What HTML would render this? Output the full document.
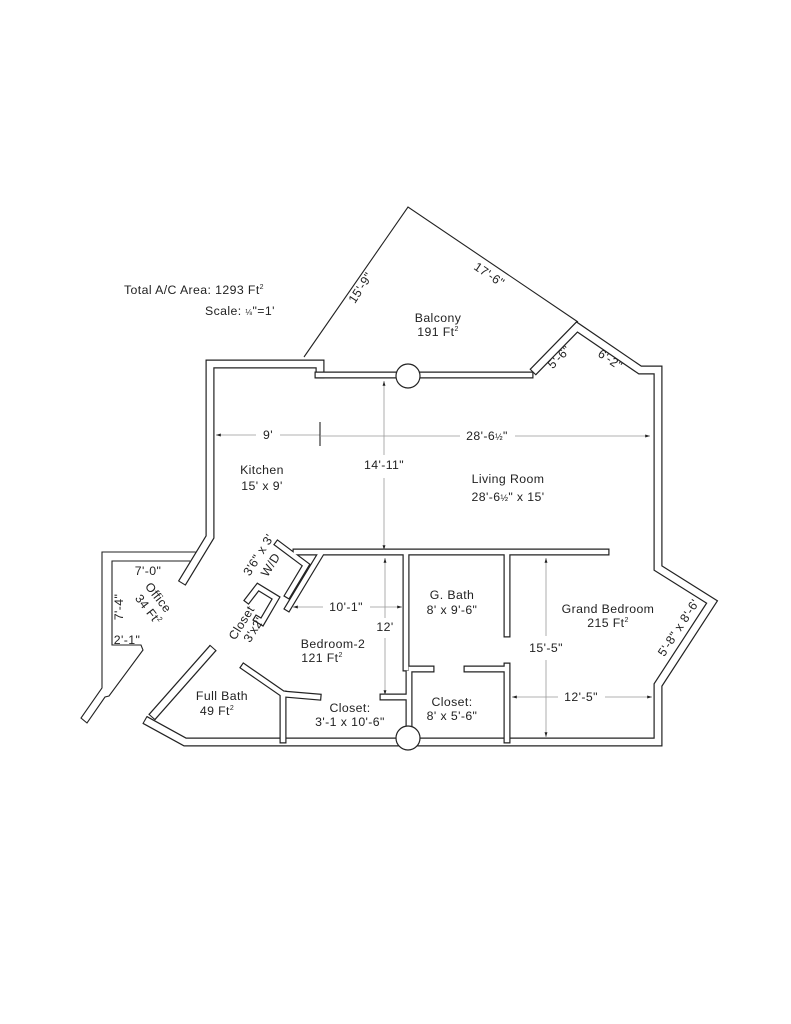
<!DOCTYPE html>
<html><head><meta charset="utf-8"><style>
html,body{margin:0;padding:0;background:#fff}
svg{display:block}
text{font-family:"Liberation Sans",sans-serif;fill:#222;font-size:12.3px;letter-spacing:0.4px}
.w{fill:none;stroke:#222;stroke-width:9;stroke-linejoin:miter;stroke-linecap:butt}
.wi{fill:none;stroke:#fff;stroke-width:6.6;stroke-linejoin:miter;stroke-linecap:butt}
.t{fill:none;stroke:#222;stroke-width:7;stroke-linecap:square;stroke-linejoin:miter}
.ti{fill:none;stroke:#fff;stroke-width:4.6;stroke-linecap:square;stroke-linejoin:miter}
.d{stroke:#999;stroke-width:0.8;fill:none}
.b{stroke:#222;stroke-width:1.1;fill:none}
</style></head><body>
<svg width="791" height="1024" viewBox="0 0 791 1024" xmlns="http://www.w3.org/2000/svg">
<defs>
<marker id="a" viewBox="0 0 10 10" refX="10" refY="5" markerWidth="6" markerHeight="6" orient="auto-start-reverse"><path d="M0,2 L10,5 L0,8z" fill="#222"/></marker>
</defs>
<polyline class="b" points="304,357 408,207 578,322"/>
<g>
<polyline class="w" points="320,378 320,364 210,364 210,537 182,583"/>
<polyline class="w" points="145,720 185,742 658,742 658,685 712,602 658,568 658,370 640,370 577,327 533,372"/>
<polyline class="w" points="213,648 152,717"/>
</g>
<g>
<polyline class="wi" points="320,378 320,364 210,364 210,537 182,583"/>
<polyline class="wi" points="145,720 185,742 658,742 658,685 712,602 658,568 658,370 640,370 577,327 533,372"/>
<polyline class="wi" points="213,648 152,717"/>
</g>
<g stroke="#222" stroke-width="1.1">
<line x1="178.2" y1="580.7" x2="185.8" y2="585.3"/>
<line x1="142.8" y1="723.9" x2="147.2" y2="716.1"/>
<line x1="209.6" y1="645" x2="216.4" y2="651"/>
<line x1="148.6" y1="714" x2="155.4" y2="720"/>
<line x1="529.8" y1="368.9" x2="536.2" y2="375.1"/>
<line x1="315.5" y1="378" x2="324.5" y2="378"/>
</g>
<path class="b" d="M195.7,552 H102 V688 L81,718 L87,723 L105,697 L109,696 L143,650 L141,645 H112 V561 H190.2"/>
<g>
<polyline class="t" points="318,375 530,375"/>
<polyline class="t" points="296,552 606,552"/>
<polyline class="t" points="278,544 306,565 288,595"/>
<polyline class="t" points="320,555 288,608"/>
<polyline class="t" points="248,600 258,587 276,598 262,622 257,619"/>
<polyline class="t" points="406,555 406,668"/>
<polyline class="t" points="409,673 409,740"/>
<polyline class="t" points="383,697 405,697"/>
<polyline class="t" points="244,667 283,694 318,697"/>
<polyline class="t" points="283,694 283,740"/>
<polyline class="t" points="507,555 507,634"/>
<polyline class="t" points="507,666 507,740"/>
<polyline class="t" points="411,669 431,669"/>
<polyline class="t" points="467,669 506,669"/>
</g>
<g>
<polyline class="ti" points="318,375 530,375"/>
<polyline class="ti" points="296,552 606,552"/>
<polyline class="ti" points="278,544 306,565 288,595"/>
<polyline class="ti" points="320,555 288,608"/>
<polyline class="ti" points="248,600 258,587 276,598 262,622 257,619"/>
<polyline class="ti" points="406,555 406,668"/>
<polyline class="ti" points="409,673 409,740"/>
<polyline class="ti" points="383,697 405,697"/>
<polyline class="ti" points="244,667 283,694 318,697"/>
<polyline class="ti" points="283,694 283,740"/>
<polyline class="ti" points="507,555 507,634"/>
<polyline class="ti" points="507,666 507,740"/>
<polyline class="ti" points="411,669 431,669"/>
<polyline class="ti" points="467,669 506,669"/>
</g>
<circle cx="408" cy="376" r="12" fill="#fff" stroke="#222" stroke-width="1.2"/>
<circle cx="408" cy="738" r="12" fill="#fff" stroke="#222" stroke-width="1.2"/>
<line class="d" x1="216" y1="435" x2="256" y2="435" marker-start="url(#a)"/>
<line class="d" x1="280" y1="435" x2="320" y2="435"/>
<line class="b" x1="320" y1="422" x2="320" y2="446" stroke-width="0.8"/>
<line class="d" x1="320" y1="436" x2="460" y2="436"/>
<line class="d" x1="515" y1="436" x2="650" y2="436" marker-end="url(#a)"/>
<line class="d" x1="384" y1="381" x2="384" y2="455" marker-start="url(#a)"/>
<line class="d" x1="384" y1="478" x2="384" y2="550" marker-end="url(#a)"/>
<line class="d" x1="385" y1="558" x2="385" y2="618" marker-start="url(#a)"/>
<line class="d" x1="385" y1="638" x2="385" y2="695" marker-end="url(#a)"/>
<line class="d" x1="293" y1="607" x2="323" y2="607" marker-start="url(#a)"/>
<line class="d" x1="370" y1="607" x2="402" y2="607" marker-end="url(#a)"/>
<line class="d" x1="546" y1="558" x2="546" y2="636" marker-start="url(#a)"/>
<line class="d" x1="546" y1="660" x2="546" y2="737" marker-end="url(#a)"/>
<line class="d" x1="512" y1="697" x2="558" y2="697" marker-start="url(#a)"/>
<line class="d" x1="605" y1="697" x2="652" y2="697" marker-end="url(#a)"/>
<text x="124" y="294">Total  A/C Area:  1293 Ft<tspan font-size="7" dy="-5">2</tspan></text>
<text x="205" y="315">Scale: <tspan font-size="8">⅛</tspan>"=1'</text>
<text x="438" y="322" text-anchor="middle">Balcony</text>
<text x="438" y="336" text-anchor="middle">191 Ft<tspan font-size="7" dy="-5">2</tspan></text>
<text transform="translate(364,290) rotate(-57)" text-anchor="middle">15'-9"</text>
<text transform="translate(487,278) rotate(34)" text-anchor="middle">17'-6"</text>
<text transform="translate(562,360) rotate(-45)" text-anchor="middle">5'-6"</text>
<text transform="translate(608,363) rotate(34)" text-anchor="middle">6'-2"</text>
<text x="268" y="439" text-anchor="middle">9'</text>
<text x="487" y="440" text-anchor="middle">28'-6<tspan font-size="9">½</tspan>"</text>
<text x="384" y="469" text-anchor="middle">14'-11"</text>
<text x="262" y="474" text-anchor="middle">Kitchen</text>
<text x="262" y="490" text-anchor="middle">15' x 9'</text>
<text x="508" y="483" text-anchor="middle">Living Room</text>
<text x="508" y="501" text-anchor="middle">28'-6<tspan font-size="9">½</tspan>" x 15'</text>
<text x="452" y="599" text-anchor="middle">G. Bath</text>
<text x="452" y="614" text-anchor="middle">8' x 9'-6"</text>
<text x="608" y="613" text-anchor="middle">Grand Bedroom</text>
<text x="608" y="627" text-anchor="middle">215 Ft<tspan font-size="7" dy="-5">2</tspan></text>
<text x="546" y="652" text-anchor="middle">15'-5"</text>
<text x="581" y="701" text-anchor="middle">12'-5"</text>
<text transform="translate(682,630) rotate(-57)" text-anchor="middle">5'-8" x 8'-6'</text>
<text x="333" y="648" text-anchor="middle">Bedroom-2</text>
<text x="322" y="662" text-anchor="middle">121 Ft<tspan font-size="7" dy="-5">2</tspan></text>
<text x="385" y="631" text-anchor="middle">12'</text>
<text x="346" y="611" text-anchor="middle">10'-1"</text>
<text x="350" y="712" text-anchor="middle">Closet:</text>
<text x="350" y="726" text-anchor="middle">3'-1 x 10'-6"</text>
<text x="452" y="706" text-anchor="middle">Closet:</text>
<text x="452" y="720" text-anchor="middle">8' x 5'-6"</text>
<text x="222" y="700" text-anchor="middle">Full Bath</text>
<text x="217" y="715" text-anchor="middle">49 Ft<tspan font-size="7" dy="-5">2</tspan></text>
<text x="148" y="575" text-anchor="middle">7'-0"</text>
<text transform="translate(123,607) rotate(-90)" text-anchor="middle">7'-4"</text>
<text x="127" y="644" text-anchor="middle">2'-1"</text>
<text transform="translate(155,600) rotate(52)" text-anchor="middle">Office</text>
<text transform="translate(145,612) rotate(52)" text-anchor="middle">34 Ft<tspan font-size="7" dy="-5">2</tspan></text>
<text transform="translate(262,557) rotate(-58)" text-anchor="middle">3'6" x 3'</text>
<text transform="translate(274,567) rotate(-58)" text-anchor="middle">W/D</text>
<text transform="translate(245,625) rotate(-58)" text-anchor="middle">Closet</text>
<text transform="translate(257,632) rotate(-58)" text-anchor="middle">3'x2'</text>
</svg>
</body></html>
